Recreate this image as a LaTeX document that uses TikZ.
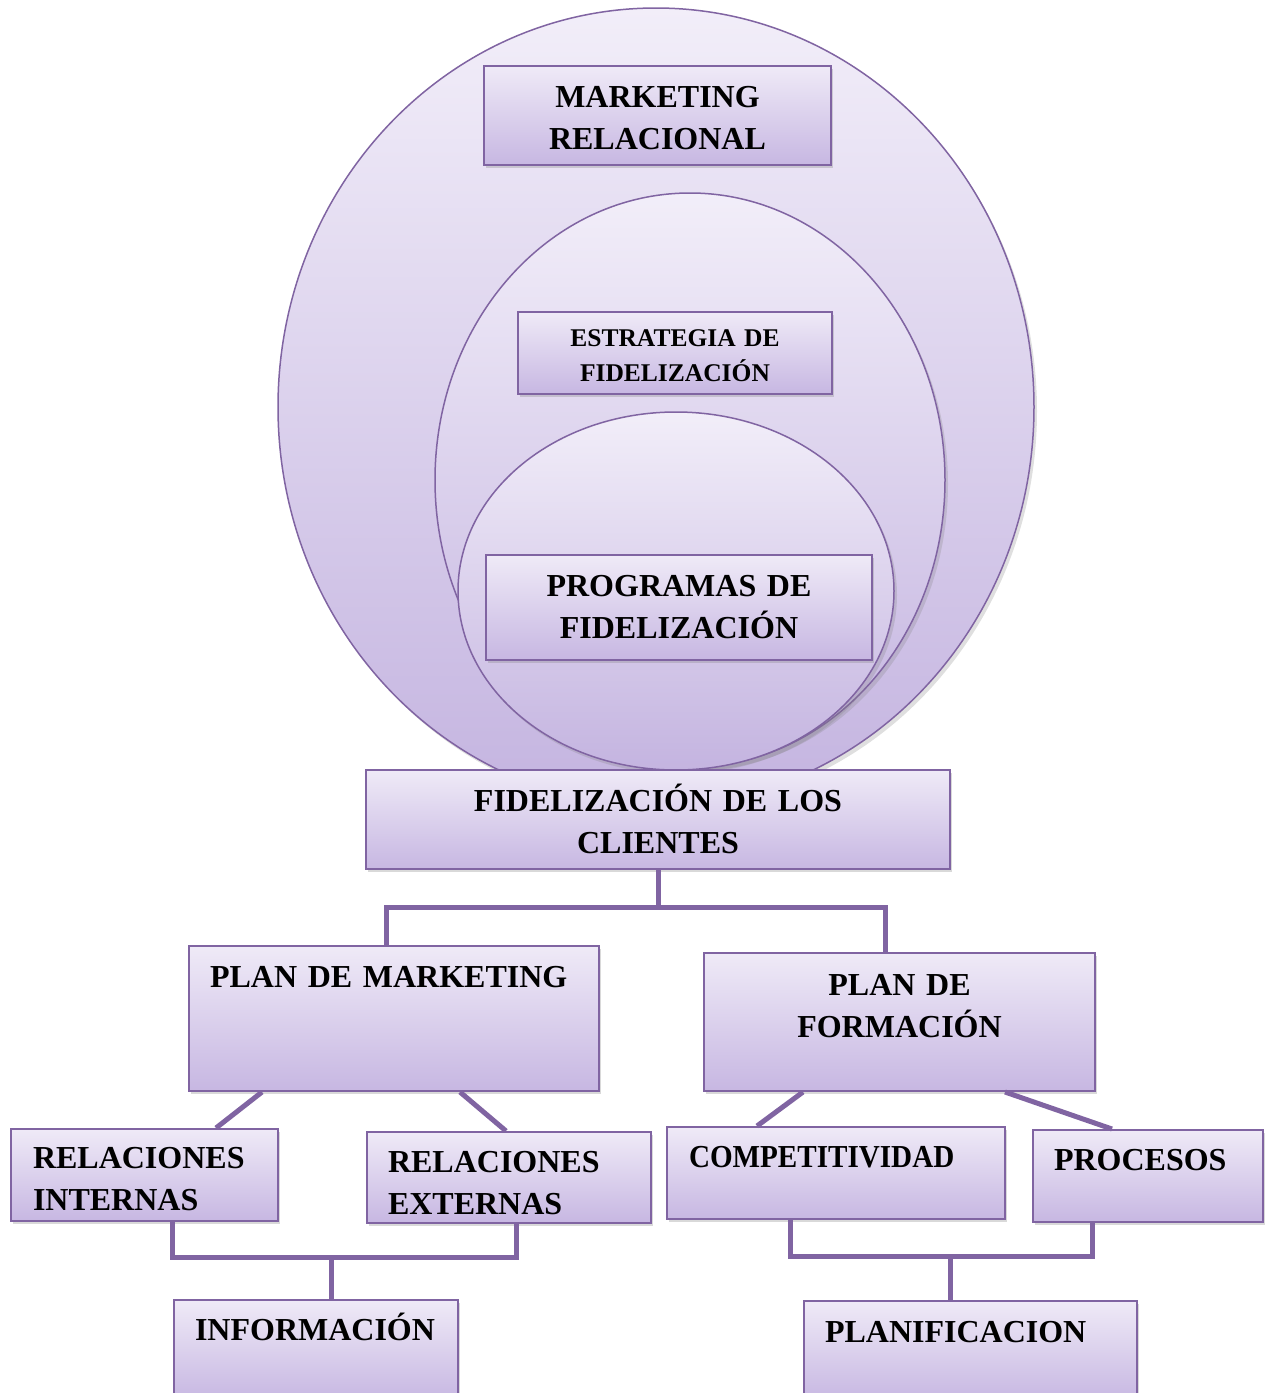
\documentclass[tikz,border=0pt]{standalone}
\usepackage{fontspec}
\usepackage{graphicx}
\setmainfont{Liberation Serif}
\usetikzlibrary{shapes.geometric,shadows}

\definecolor{plum}{RGB}{128,100,162}
\definecolor{boxtop}{RGB}{239,234,247}
\definecolor{boxbot}{RGB}{199,183,226}
\definecolor{ringtop}{RGB}{242,238,249}
\definecolor{ringbot}{RGB}{196,180,224}

\tikzset{
  ring/.style={ellipse, draw=plum, line width=1.5pt, top color=ringtop, bottom color=ringbot,
    inner sep=0pt, drop shadow={shadow xshift=3pt, shadow yshift=-4pt, opacity=0.25}},
  box/.style={rectangle, draw=plum, line width=2pt, top color=boxtop, bottom color=boxbot,
    inner ysep=0pt, font=\bfseries\fontsize{32}{42}\selectfont,
    drop shadow={shadow xshift=2pt, shadow yshift=-3pt, opacity=0.3}},
  link/.style={draw=plum, line width=5pt}
}

\begin{document}
\begin{tikzpicture}[x=1pt, y=-1pt]
\useasboundingbox (0,0) rectangle (1268,1393);
% nested circles
\node[ring, minimum width=756pt, minimum height=798pt] (relring) at (656,407) {};
\node[box, text width=337pt, inner xsep=5pt, align=center, text height=41pt, text depth=58pt] (mkrel) at (657.5,115.5) {MARKETING\\RELACIONAL};
\node[ring, minimum width=510pt, minimum height=574pt] (estring) at (690,480) {};
\node[box, font=\bfseries\fontsize{25.5}{35}\selectfont, text width=304pt, inner xsep=5pt, align=center, text height=34pt, text depth=48pt] (estr) at (675,353) {ESTRATEGIA DE\\FIDELIZACIÓN};
\node[ring, minimum width=436pt, minimum height=358pt] (progring) at (676,591) {};
\node[box, text width=376pt, inner xsep=5pt, align=center, text height=41pt, text depth=64pt] (prog) at (679,607.5) {PROGRAMAS DE\\FIDELIZACIÓN};
% tree
\node[box, text width=574pt, inner xsep=5pt, align=center, text height=41pt, text depth=58pt] (fidel) at (658,819.5) {FIDELIZACIÓN DE LOS\\CLIENTES};
\node[box, text width=368pt, inner xsep=21pt, align=left, text height=41pt, text depth=104pt] (planmk) at (394,1018.5) {PLAN DE MARKETING};
\node[box, text width=381pt, inner xsep=5pt, align=center, text height=42pt, text depth=96pt] (planfo) at (899.5,1022) {PLAN DE\\FORMACIÓN};
\node[box, text width=223pt, inner xsep=22pt, align=left, text height=39pt, text depth=53pt] (relint) at (144.5,1175) {RELACIONES\\INTERNAS};
\node[box, text width=242pt, inner xsep=21pt, align=left, text height=40pt, text depth=51pt] (relext) at (509,1177.5) {RELACIONES\\EXTERNAS};
\node[box, text width=294pt, inner xsep=22pt, align=left, text height=40pt, text depth=52pt] (comp) at (836,1173) {\scalebox{0.91}[1]{COMPETITIVIDAD}};
\node[box, text width=188pt, inner xsep=21pt, align=left, text height=40pt, text depth=52pt] (proc) at (1148,1176) {PROCESOS};
\node[box, text width=242pt, inner xsep=21pt, align=left, text height=40pt, text depth=60pt] (info) at (316,1350) {INFORMACIÓN};
\node[box, text width=291pt, inner xsep=21pt, align=left, text height=41pt, text depth=59pt] (planif) at (970.5,1351) {PLANIFICACION};
% connectors
\coordinate (forkT) at (658,907);
\coordinate (joinL) at (331,1257);
\coordinate (joinR) at (950,1256);
\draw[link] (fidel.south) -- (forkT);
\draw[link] ([xshift=-8pt]planmk.north) |- (forkT) -| ([xshift=-14.5pt]planfo.north);
\draw[link] ([xshift=74pt]planmk.south west) -- ([xshift=206pt]relint.north west);
\draw[link] ([xshift=272pt]planmk.south west) -- ([xshift=140pt]relext.north west);
\draw[link] ([xshift=100pt]planfo.south west) -- ([xshift=91pt]comp.north west);
\draw[link] ([xshift=302pt]planfo.south west) -- ([xshift=80pt]proc.north west);
\draw[link] ([xshift=162pt]relint.south west) |- (joinL) -| ([xshift=150pt]relext.south west);
\draw[link] (joinL) -- (joinL |- info.north);
\draw[link] ([xshift=124pt]comp.south west) |- (joinR) -| ([xshift=60pt]proc.south west);
\draw[link] (joinR) -- (joinR |- planif.north);
\end{tikzpicture}
\end{document}
